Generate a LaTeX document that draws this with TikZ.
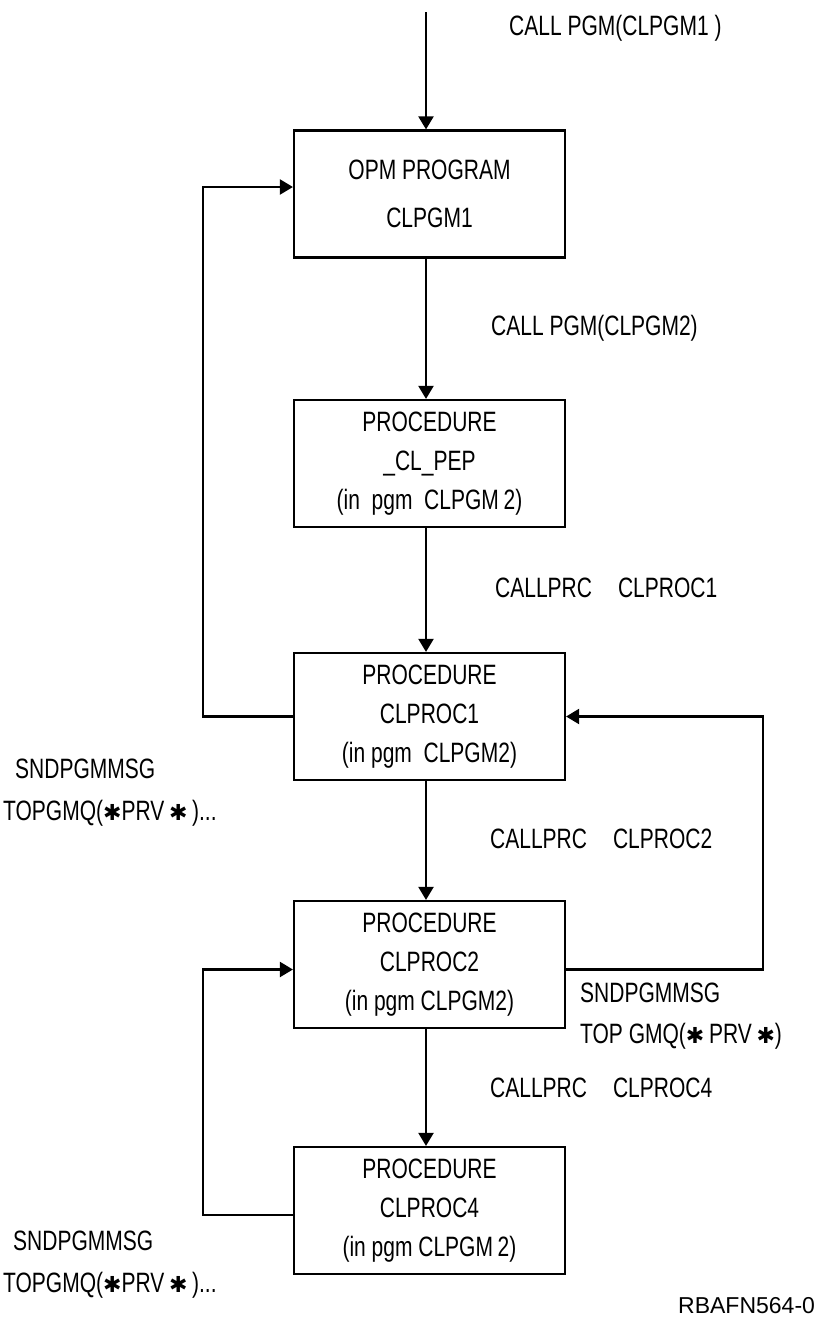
\documentclass[tikz,border=0pt]{standalone}
\usepackage{fontspec}
\setmainfont{Liberation Sans}[FakeStretch=0.75]
\newfontfamily\symf{DejaVu Sans}
\newfontfamily\idf{Liberation Sans}
\usetikzlibrary{arrows.meta}
\newcommand{\fs}{\fontsize{28}{39}\selectfont}
\newcommand{\stx}{{\symf\fontsize{22}{22}\selectfont\char"2731}}
\begin{document}
\begin{tikzpicture}[x=1pt,y=-1pt,
  box/.style={draw,line width=2.2pt,minimum width=271pt,minimum height=127pt,inner sep=0pt,align=center,font=\fs},
  arr/.style={line width=2.2pt,-{Triangle[length=13pt,width=15pt]}},
  lbl/.style={anchor=base west,inner sep=0pt,font=\fs}]
\useasboundingbox (0,0) rectangle (820,1317);
% boxes
\node[box] (b1) at (429.5,194) {OPM PROGRAM\hspace{14pt}\\[9pt]CLPGM1};
\node[box] (b2) at (429.5,463.5) {PROCEDURE\\\_CL\_PEP\\(in\ \ pgm\ \ CLPGM\,2)};
\node[box] (b3) at (429.5,716.5) {PROCEDURE\\CLPROC1\\(in\ pgm\ \ CLPGM2)};
\node[box] (b4) at (429.5,964.5) {PROCEDURE\\CLPROC2\\(in pgm CLPGM2)};
\node[box] (b5) at (429.5,1210.5) {PROCEDURE\\CLPROC4\\(in\ pgm\ CLPGM\,2)};
% vertical calls
\coordinate (top) at (426,12);
\draw[arr] (top) -- (top |- b1.north);
\draw[arr] (b1.south -| top) -- (b2.north -| top);
\draw[arr] (b2.south -| top) -- (b3.north -| top);
\draw[arr] (b3.south -| top) -- (b4.north -| top);
\draw[arr] (b4.south -| top) -- (b5.north -| top);
% returns
\draw[arr] (b3.west) -- ++(-90,0) |- ([yshift=7pt]b1.west);
\draw[arr] ([yshift=-5pt]b4.east) -- ++(197,0) |- (b3.east);
\draw[arr] ([yshift=-4.5pt]b5.west) -- ++(-90,0) |- ([yshift=-5pt]b4.west);
% labels
\node[lbl] (l0) at (509,35) {CALL PGM(CLPGM1 )};
\node[lbl] (l1) at (491,335) {CALL PGM(CLPGM2)};
\node[lbl] (l2) at (495,597) {CALLPRC\hspace{26pt}CLPROC1};
\node[lbl] (l3) at (490,848) {CALLPRC\hspace{26pt}CLPROC2};
\node[lbl] (l4) at (490,1097) {CALLPRC\hspace{26pt}CLPROC4};
\node[lbl] (s1a) at (15,778) {SNDPGMMSG};
\node[lbl] (s1b) at (3,820) {TOPGMQ(\stx PRV\,\stx\,)...};
\node[lbl] (s2a) at (580,1002) {SNDPGMMSG};
\node[lbl] (s2b) at (580,1043) {TOP GMQ(\stx\,PRV\,\stx)};
\node[lbl] (s3a) at (13,1250) {SNDPGMMSG};
\node[lbl] (s3b) at (3,1292) {TOPGMQ(\stx PRV\,\stx\,)...};
\node[anchor=base west,inner sep=0pt,font=\idf\fontsize{23}{23}\selectfont] (id) at (678,1313) {RBAFN564-0};
\end{tikzpicture}
\end{document}
